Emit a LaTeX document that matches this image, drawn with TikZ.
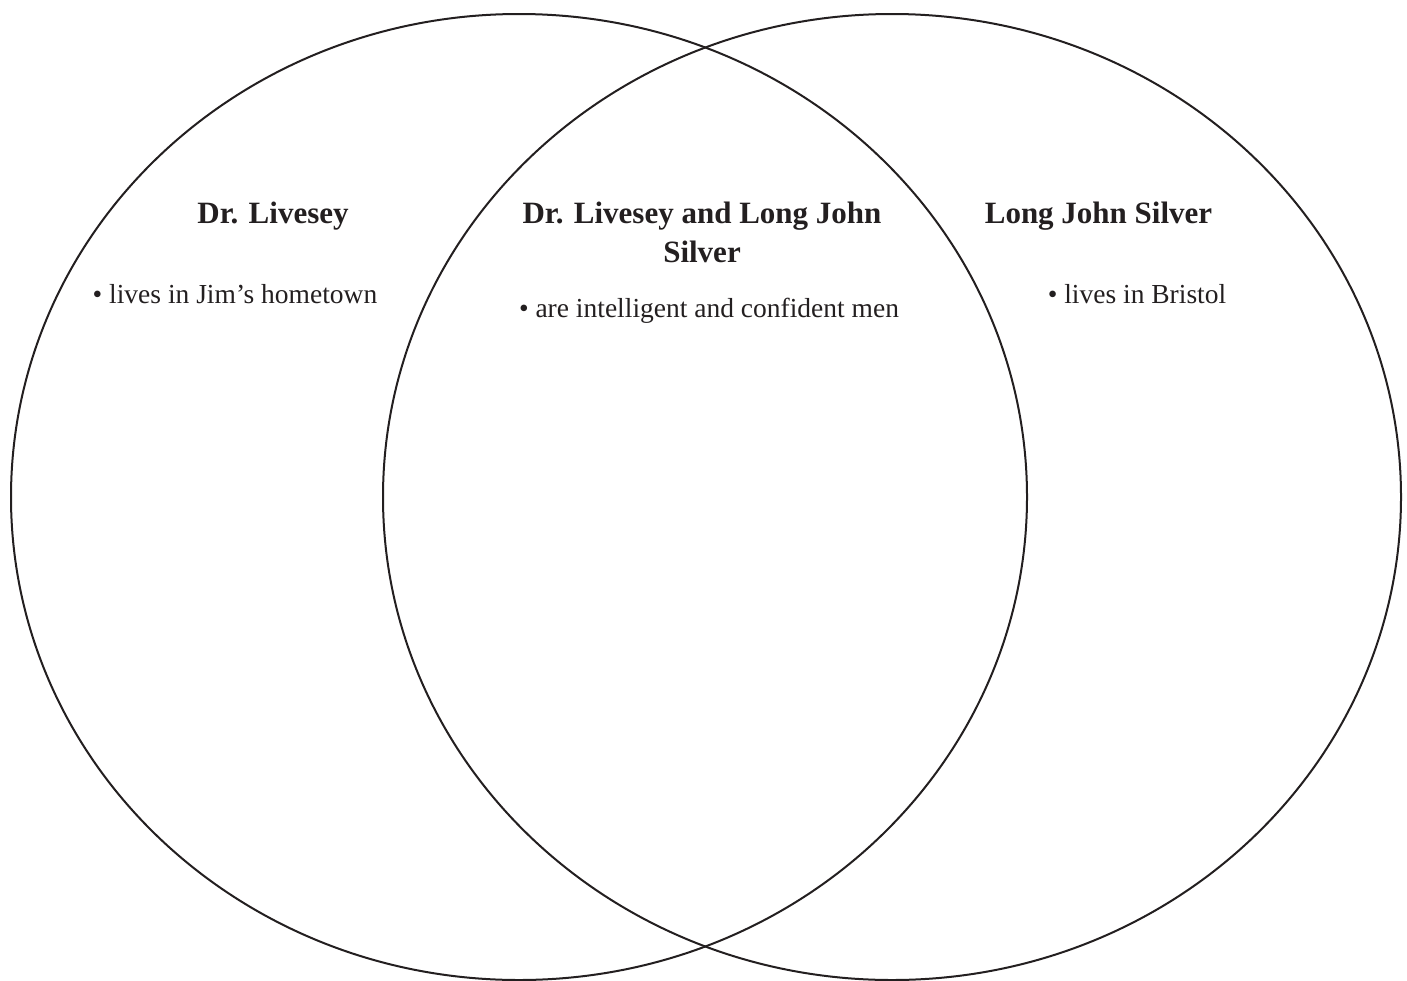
\documentclass[tikz,border=0pt]{standalone}
\usepackage{fontspec}
\setmainfont{Liberation Serif}
\definecolor{ink}{HTML}{231F20}
\begin{document}
\begin{tikzpicture}[x=1pt,y=-1pt,
  ring/.style={draw=ink,line width=2pt},
  title/.style={text=ink,font=\fontsize{31}{39}\selectfont\bfseries,anchor=base,align=center,inner sep=0pt},
  item/.style={text=ink,font=\fontsize{27.5}{33}\selectfont,anchor=base,inner sep=0pt}]
\useasboundingbox (0,0) rectangle (1407,980);
\draw[ring] (519,497) ellipse [x radius=508, y radius=483];
\draw[ring] (892,497) ellipse [x radius=509, y radius=483];
\node[title] (lt) at (273,223) {Dr. Livesey};
\node[item] (li) at (235,303) {\textbullet{} lives in Jim’s hometown};
\node[title] (mt) at (702,262) {Dr. Livesey and Long John\\Silver};
\node[item] (mi) at (709,317) {\textbullet{} are intelligent and confident men};
\node[title] (rt) at (1098.5,223) {Long John Silver};
\node[item] (ri) at (1137,303) {\textbullet{} lives in Bristol};
\end{tikzpicture}
\end{document}
